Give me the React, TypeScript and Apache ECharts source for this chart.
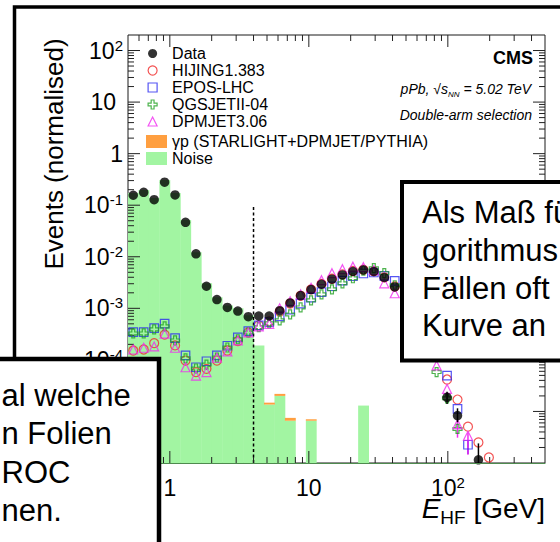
import React, { useEffect, useRef } from 'react';
import * as echarts from 'echarts';

const FONT = "'Liberation Sans', Arial, Helvetica, sans-serif";

// Histogram bin edges in E_HF [GeV] (35 log-spaced bins)
const binEdges = [
  0.5, 0.595, 0.707, 0.841, 1, 1.189, 1.414, 1.682, 2, 2.378, 2.828, 3.364,
  4, 4.757, 5.657, 6.727, 8, 9.514, 11.31, 13.45, 16, 19.03, 22.63, 26.91,
  32, 38.05, 45.25, 53.82, 64, 76.11, 90.51, 107.6, 128, 152.2, 181.0, 215.3,
];

const dataValues = [
  0.156, 0.178, 0.128, 0.279, 0.158, 0.0465, 0.0114, 0.00268, 0.00148, 0.00104, 0.000886, 0.00069, 0.00071, 0.00071,
  0.0009, 0.00127, 0.00177, 0.00231, 0.00293, 0.00367, 0.00444, 0.00518, 0.00556, 0.00518, 0.00396, 0.0026,
  null, null, null, null, 1.88e-5, 8.3e-6, null, 1.15e-6, null,
];
const hijingValues = [
  1.52e-4, 1.59e-4, 2.11e-4, 3.08e-4, 1.91e-4, 9.7e-5, 5.8e-5, 6.7e-5, 9.7e-5, 1.52e-4, 2.31e-4, 3.41e-4, 4.67e-4, 5.6e-4,
  8.6e-4, 1.24e-3, 1.75e-3, 2.33e-3, 2.98e-3, 3.75e-3, 4.55e-3, 5.3e-3, 5.6e-3, 5.2e-3, 4.0e-3, 2.65e-3,
  null, null, null, null, 4.16e-5, 1.7e-5, 5.06e-6, 2.5e-6, 1.28e-6,
];
const eposValues = [
  3.46e-4, 3.46e-4, 4.14e-4, 5.04e-4, 2.64e-4, 1.22e-4, 7.2e-5, 9.4e-5, 1.22e-4, 1.88e-4, 2.73e-4, 3.62e-4, 4.67e-4, 5.4e-4,
  7.0e-4, 9.4e-4, 1.23e-3, 1.61e-3, 2.07e-3, 2.68e-3, 3.46e-3, 4.19e-3, 4.73e-3, 4.95e-3, 4.25e-3, 3.4e-3,
  null, null, null, null, 4.97e-5, 1.12e-5, 2.26e-6, null, null,
];
const qgsjetValues = [
  3.26e-4, 3.26e-4, 3.9e-4, 4.47e-4, 2.38e-4, 1.07e-4, 6.8e-5, 8.1e-5, 1.11e-4, 1.74e-4, 2.5e-4, 3.4e-4, 4.3e-4, 5.1e-4,
  5.84e-4, 7.6e-4, 1.04e-3, 1.43e-3, 1.87e-3, 2.34e-3, 3.06e-3, 3.83e-3, 5.4e-3, 6.0e-3, 4.8e-3, 2.8e-3,
  null, null, null, 5.8e-5, 1.8e-5, 4.57e-6, null, null, null,
];
const dpmjetValues = [
  1.59e-4, 1.72e-4, 1.82e-4, 3.22e-4, 1.72e-4, 7.2e-5, 4.97e-5, 5.8e-5, 1.1e-4, 1.46e-4, 2.38e-4, 3.41e-4, 4.47e-4, 5.0e-4,
  1.0e-3, 1.37e-3, 1.87e-3, 2.5e-3, 3.51e-3, 4.8e-3, 5.74e-3, 6.42e-3, 6.28e-3, 5.49e-3, 3.06e-3, 1.96e-3,
  null, null, null, 7.8e-5, 2.74e-5, 5.7e-6, 3.38e-6, null, null,
];
const noiseValues = [
  0.172, 0.198, 0.138, 0.309, 0.172, 0.0515, 0.0123, 0.00306, 0.00164, 0.00114, 0.001, 7.3e-4, 1.91e-4, 1.36e-5,
  2.0e-5, 6.6e-6, null, 6.6e-6, null, null, null, null, 1.3e-5, null, null, null,
  null, null, null, null, null, null, null, null, null,
];
const gammaValues = [
  null, null, null, null, null, null, null, null, null, null, null, null, null, 1.2e-6,
  1.9e-6, 0.9e-6, null, 0.45e-6, null, null, null, null, null, null, null, null,
  null, null, null, null, null, null, null, null, null,
];

// error bars: [bin index, low, high]
const dataErrors = [[30, 1.4e-5, 2.4e-5], [31, 6.2e-6, 1.15e-5], [33, 1e-6, 2.4e-6]];
const dpmjetErrors = [[31, 3.1e-6, 6.6e-6], [32, 1.45e-6, 3.9e-6]];
const eposErrors = [[32, 1.5e-6, 2.7e-6]];

const thresholdGeV = 4;
const thresholdTop = 0.1;

const X_MIN = 0.5, X_MAX = 500, Y_MIN = 1e-6, Y_MAX = 200;
const xTickDecades = [0.1, 1, 10, 100];
const yTickDecades = [1e-6, 1e-5, 1e-4, 1e-3, 1e-2, 1e-1, 1, 10, 100];
const tickMultipliers = [1, 2, 3, 4, 5, 6, 7, 8, 9];
const lowestShownYExponent = -4; // lower labels sit under the text box

const legendMarkers = ['Data', 'HIJING1.383', 'EPOS-LHC', 'QGSJETII-04', 'DPMJET3.06'];
const legendFills = ['γp (STARLIGHT+DPMJET/PYTHIA)', 'Noise'];

const rightBoxLines = ['Als Maß für', 'gorithmus', 'Fällen oft', 'Kurve an'];
const leftBoxLines = ['al welche', 'n Folien', 'ROC', 'nen.'];

const NOISE_COLOR = '#a2f5a2';
const GAMMA_COLOR = '#ff9f40';
const RED = '#f02a2a';
const BLUE = '#2a2af0';
const GREEN = '#22a022';
const MAGENTA = '#f02af0';

const CROSS = 'path://M3.4,0H6.6V3.4H10V6.6H6.6V10H3.4V6.6H0V3.4H3.4Z';

const binCenters = binEdges.slice(0, -1).map((e, i) => Math.sqrt(e * binEdges[i + 1]));

function points(values: (number | null)[]) {
  const out: number[][] = [];
  values.forEach((v, i) => { if (v != null) out.push([binCenters[i], v]); });
  return out;
}

function errItems(errs: number[][]) {
  return errs.map(([k, lo, hi]) => [binCenters[k], lo, hi]);
}

function isDecade(v: number) {
  const e = Math.log10(v);
  return Math.abs(e - Math.round(e)) < 1e-6;
}

function xLabel(v: number) {
  if (!isDecade(v)) return '';
  const n = Math.round(Math.log10(v));
  if (n === 0) return '{b|1}';
  if (n === 1) return '{b|10}';
  return `{b|10}{s|${n}}`;
}

function yLabel(v: number) {
  if (!isDecade(v)) return '';
  const n = Math.round(Math.log10(v));
  if (n < lowestShownYExponent) return '';
  if (n === 0) return '{b|1}';
  if (n === 1) return '{b|10}{p| }';
  return `{b|10}{s|${n}}`;
}

const labelRich = {
  b: { fontSize: 23, fontFamily: FONT, lineHeight: 26, color: '#000' },
  s: { fontSize: 15, fontFamily: FONT, lineHeight: 15, verticalAlign: 'top', color: '#000' },
  p: { fontSize: 15, width: 7, lineHeight: 15 },
};

export default function App() {
  const ref = useRef<HTMLDivElement>(null);

  useEffect(() => {
    if (!ref.current) return;
    const chart = echarts.init(ref.current, null, { renderer: 'svg' });

    const xTicks: number[][] = [];
    xTickDecades.forEach((d) => tickMultipliers.forEach((m) => {
      const v = d * m;
      if (v > X_MIN * 1.0001 && v < X_MAX * 0.9999) xTicks.push([v, 1]);
    }));
    const yTicks: number[][] = [];
    yTickDecades.forEach((d) => tickMultipliers.forEach((m) => {
      const v = d * m;
      if (v > Y_MIN * 1.0001 && v < Y_MAX * 0.9999) yTicks.push([1, v]);
    }));

    const noiseItems: number[][] = [];
    const gammaItems: number[][] = [];
    noiseValues.forEach((v, i) => {
      const base = v == null ? Y_MIN : v;
      if (v != null) noiseItems.push([binEdges[i], binEdges[i + 1], Y_MIN, v]);
      const g = gammaValues[i];
      if (g != null) gammaItems.push([binEdges[i], binEdges[i + 1], base, base + g]);
    });

    const rectRender = (fill: string) => (params: any, api: any) => {
      const a = api.coord([api.value(0), api.value(3)]);
      const b = api.coord([api.value(1), api.value(2)]);
      return {
        type: 'rect',
        shape: { x: a[0], y: a[1], width: b[0] - a[0] + 0.4, height: b[1] - a[1] },
        style: { fill },
      };
    };

    const errRender = (stroke: string) => (params: any, api: any) => {
      const lo = api.coord([api.value(0), api.value(1)]);
      const hi = api.coord([api.value(0), api.value(2)]);
      return {
        type: 'line',
        shape: { x1: lo[0], y1: lo[1], x2: hi[0], y2: hi[1] },
        style: { stroke, lineWidth: 1.5 },
      };
    };

    const hollow = (c: string) => ({ color: 'rgba(0,0,0,0)', borderColor: c, borderWidth: 1.2 });

    const option: any = {
      animation: false,
      backgroundColor: '#ffffff',
      grid: {
        left: 128, right: 15, top: 35, bottom: 79,
        show: true, borderColor: '#1a1a1a', borderWidth: 1, backgroundColor: 'transparent',
      },
      xAxis: {
        type: 'log', logBase: 10, min: X_MIN, max: X_MAX,
        axisLine: { show: true, lineStyle: { color: '#4e8a4e', width: 1.2 } },
        axisTick: { show: false }, splitLine: { show: false }, minorTick: { show: false },
        axisLabel: { margin: 12, formatter: xLabel, rich: labelRich, color: '#000' },
        z: 6,
      },
      yAxis: {
        type: 'log', logBase: 10, min: Y_MIN, max: Y_MAX,
        axisLine: { show: false }, axisTick: { show: false }, splitLine: { show: false }, minorTick: { show: false },
        axisLabel: { margin: 5, formatter: yLabel, rich: labelRich, color: '#000' },
      },
      legend: [
        {
          orient: 'vertical', left: 147.5, top: 45.5, itemWidth: 9, itemHeight: 9, itemGap: 1, padding: 0,
          selectedMode: false, data: legendMarkers,
          textStyle: { fontSize: 16, fontFamily: FONT, color: '#000', padding: [0, 0, 0, 10] },
          itemStyle: { borderWidth: 1.2 },
        },
        {
          orient: 'vertical', left: 146, top: 133.5, itemWidth: 21, itemHeight: 13, itemGap: 1, padding: 0,
          selectedMode: false, icon: 'rect', data: legendFills,
          textStyle: { fontSize: 16, fontFamily: FONT, color: '#000' },
        },
      ],
      series: [
        {
          name: 'Noise', type: 'custom', silent: true, clip: true, z: 1,
          itemStyle: { color: NOISE_COLOR },
          encode: { x: [0, 1], y: [2, 3] },
          data: noiseItems, renderItem: rectRender(NOISE_COLOR),
        },
        {
          name: legendFills[0], type: 'custom', silent: true, clip: true, z: 1,
          itemStyle: { color: GAMMA_COLOR },
          encode: { x: [0, 1], y: [2, 3] },
          data: gammaItems, renderItem: rectRender(GAMMA_COLOR),
        },
        {
          name: 'threshold', type: 'line', silent: true, z: 2, symbol: 'none',
          data: [[thresholdGeV, Y_MIN], [thresholdGeV, thresholdTop]],
          lineStyle: { color: '#000', width: 1.5, type: [3, 2.5] },
        },
        {
          name: 'xticks', type: 'custom', silent: true, z: 3, data: xTicks,
          renderItem: (params: any, api: any) => {
            const v = api.value(0);
            const len = isDecade(v) ? 12 : 6;
            const b = api.coord([v, Y_MIN]);
            const t = api.coord([v, Y_MAX]);
            return {
              type: 'group',
              children: [
                { type: 'line', shape: { x1: b[0], y1: b[1], x2: b[0], y2: b[1] - len }, style: { stroke: '#222', lineWidth: 1 } },
                { type: 'line', shape: { x1: t[0], y1: t[1], x2: t[0], y2: t[1] + len }, style: { stroke: '#222', lineWidth: 1 } },
              ],
            };
          },
        },
        {
          name: 'yticks', type: 'custom', silent: true, z: 3, data: yTicks,
          renderItem: (params: any, api: any) => {
            const v = api.value(1);
            const len = isDecade(v) ? 12 : 6;
            const l = api.coord([X_MIN, v]);
            const r = api.coord([X_MAX, v]);
            return {
              type: 'group',
              children: [
                { type: 'line', shape: { x1: l[0], y1: l[1], x2: l[0] + len, y2: l[1] }, style: { stroke: '#222', lineWidth: 1 } },
                { type: 'line', shape: { x1: r[0], y1: r[1], x2: r[0] - len, y2: r[1] }, style: { stroke: '#222', lineWidth: 1 } },
              ],
            };
          },
        },
        {
          name: 'HIJING1.383', type: 'scatter', silent: true, z: 4, symbol: 'circle', symbolSize: 9,
          itemStyle: hollow(RED), data: points(hijingValues),
        },
        {
          name: 'EPOS-LHC', type: 'scatter', silent: true, z: 4, symbol: 'rect', symbolSize: 8.5,
          itemStyle: hollow(BLUE), data: points(eposValues),
        },
        {
          name: 'QGSJETII-04', type: 'scatter', silent: true, z: 4, symbol: CROSS, symbolSize: 9,
          itemStyle: hollow(GREEN), data: points(qgsjetValues),
        },
        {
          name: 'DPMJET3.06', type: 'scatter', silent: true, z: 4, symbol: 'triangle', symbolSize: 9,
          itemStyle: hollow(MAGENTA), data: points(dpmjetValues),
        },
        {
          name: 'eposErr', type: 'custom', silent: true, z: 4, encode: { x: 0, y: [1, 2] },
          data: errItems(eposErrors), renderItem: errRender(BLUE),
        },
        {
          name: 'dpmjetErr', type: 'custom', silent: true, z: 4, encode: { x: 0, y: [1, 2] },
          data: errItems(dpmjetErrors), renderItem: errRender(MAGENTA),
        },
        {
          name: 'dataErr', type: 'custom', silent: true, z: 5, encode: { x: 0, y: [1, 2] },
          data: errItems(dataErrors), renderItem: errRender('#000'),
        },
        {
          name: 'Data', type: 'scatter', silent: true, z: 5, symbol: 'circle', symbolSize: 9.5,
          itemStyle: { color: '#000' }, data: points(dataValues),
        },
      ],
      graphic: {
        elements: [
          {
            type: 'rect', z: 50, silent: true,
            shape: { x: 14.5, y: 7, width: 800, height: 800 },
            style: { fill: 'none', stroke: '#000', lineWidth: 3.5 },
          },
          {
            type: 'text', z: 20, x: 54, y: 154, rotation: Math.PI / 2, silent: true,
            style: {
              text: 'Events (normalised)', fontSize: 26, fontFamily: FONT, fill: '#000',
              align: 'center', verticalAlign: 'middle',
            },
          },
          {
            type: 'text', z: 20, x: 545, y: 490.5, silent: true,
            style: {
              text: '{i|E}{sub|HF}{n| [GeV]}', align: 'right', verticalAlign: 'top', fill: '#000',
              rich: {
                i: { fontSize: 28, fontStyle: 'italic', fontFamily: FONT, lineHeight: 36, fill: '#000' },
                sub: { fontSize: 19, fontFamily: FONT, lineHeight: 9, verticalAlign: 'bottom', fill: '#000' },
                n: { fontSize: 28, fontFamily: FONT, lineHeight: 36, fill: '#000' },
              },
            },
          },
          {
            type: 'text', z: 20, x: 533, y: 58, silent: true,
            style: {
              text: 'CMS', fontSize: 18, fontWeight: 'bold', fontFamily: FONT, fill: '#000',
              align: 'right', verticalAlign: 'middle',
            },
          },
          {
            type: 'text', z: 20, x: 531, y: 89, silent: true,
            style: {
              text: '{i|pPb, √s}{sub|NN}{i| = 5.02 TeV}', align: 'right', verticalAlign: 'middle', fill: '#000',
              rich: {
                i: { fontSize: 14, fontStyle: 'italic', fontFamily: FONT, lineHeight: 18, fill: '#000' },
                sub: { fontSize: 8, fontStyle: 'italic', fontFamily: FONT, lineHeight: 8, verticalAlign: 'bottom', fill: '#000' },
              },
            },
          },
          {
            type: 'text', z: 20, x: 532, y: 114.5, silent: true,
            style: {
              text: 'Double-arm selection', fontSize: 14, fontStyle: 'italic', fontFamily: FONT, fill: '#000',
              align: 'right', verticalAlign: 'middle',
            },
          },
          {
            type: 'rect', z: 100, silent: true,
            shape: { x: 402, y: 182, width: 400, height: 178.5 },
            style: { fill: '#fff', stroke: '#000', lineWidth: 4 },
          },
          ...rightBoxLines.map((t, i) => ({
            type: 'text', z: 101, x: 422, y: 212.5 + i * 37.8, silent: true,
            style: { text: t, fontSize: 31, fontFamily: FONT, fill: '#000', align: 'left', verticalAlign: 'middle' },
          })),
          {
            type: 'rect', z: 100, silent: true,
            shape: { x: -50, y: 359, width: 209, height: 300 },
            style: { fill: '#fff', stroke: '#000', lineWidth: 4.5 },
          },
          ...leftBoxLines.map((t, i) => ({
            type: 'text', z: 101, x: 1.5, y: 395 + i * 38.5, silent: true,
            style: { text: t, fontSize: 31, fontFamily: FONT, fill: '#000', align: 'left', verticalAlign: 'middle' },
          })),
        ],
      },
    };

    chart.setOption(option);
    return () => chart.dispose();
  }, []);

  return (
    <div
      ref={ref}
      style={{ position: 'absolute', left: 0, top: 0, width: 560, height: 542, background: '#fff' }}
    />
  );
}
